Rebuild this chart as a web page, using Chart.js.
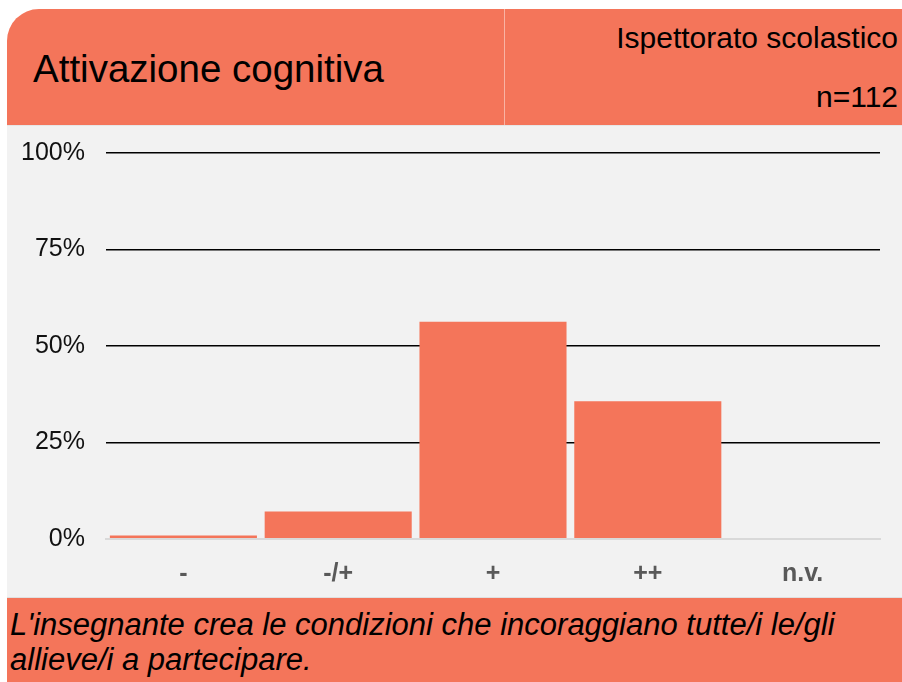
<!DOCTYPE html>
<html>
<head>
<meta charset="utf-8">
<script src="https://cdn.jsdelivr.net/npm/chart.js@4/dist/chart.umd.min.js"></script>
<style>
  html, body { margin: 0; padding: 0; background: #fff; }
  body { width: 902px; height: 682px; overflow: hidden; position: relative; font-family: "Liberation Sans", Arial, sans-serif; }
  #box { position: absolute; left: 7px; top: 9px; width: 900px; height: 680px; }
  #head { position: absolute; left: 0; top: 0; width: 100%; height: 116px; background: #f4755a;
          border-top-left-radius: 32px; border-bottom: 1px solid #e6e6e6; }
  #divider { position: absolute; left: 497px; top: 0; width: 1px; height: 116px; background: rgba(255,255,255,0.45); }
  .t { position: absolute; white-space: nowrap; color: #000; line-height: 1; }
  #title { left: 26px; top: 41px; font-size: 38.5px; }
  #sub1 { right: 9px; top: 14px; font-size: 30px; }
  #sub2 { right: 9px; top: 73px; font-size: 30px; }
  #panel { position: absolute; left: 0; top: 117px; width: 895px; height: 471px; background: #f2f2f2; }
  #foot { position: absolute; left: 0; top: 588px; width: 100%; height: 100px; background: #f4755a;
          border-top: 1px solid #e0e0e0; }
  #foottext { position: absolute; left: 3px; top: 9px; font-size: 31px; line-height: 35px; font-style: italic; color: #000; }
</style>
</head>
<body>
<div id="box">
  <div id="head">
    <div id="divider"></div>
    <div class="t" id="title">Attivazione cognitiva</div>
    <div class="t" id="sub1">Ispettorato scolastico</div>
    <div class="t" id="sub2">n=112</div>
  </div>
  <div id="panel"><canvas id="chart" width="895" height="471"></canvas></div>
  <div id="foot">
    <div id="foottext">L'insegnante crea le condizioni che incoraggiano tutte/i le/gli<br>allieve/i a partecipare.</div>
  </div>
</div>
<script>
// risposte (n=112), percentuali
var categorie = ['-', '-/+', '+', '++', 'n.v.'];
var percentuali = [0.9, 7.1, 56.3, 35.7, 0];
var tickY = [0, 25, 50, 75, 100];

var arancio = '#f4755a';

const ctx = document.getElementById('chart');
new Chart(ctx, {
  type: 'bar',
  data: {
    labels: categorie,
    datasets: [{
      data: percentuali,
      backgroundColor: arancio,
      borderWidth: 0,
      barPercentage: 0.95,
      categoryPercentage: 1
    }]
  },
  options: {
    responsive: false,
    animation: false,
    layout: { padding: { top: 27, right: 22, left: 0, bottom: 0 } },
    plugins: { legend: { display: false }, tooltip: { enabled: false } },
    scales: {
      x: {
        grid: { display: false },
        border: { color: '#d9d9d9', width: 2 },
        ticks: {
          color: '#595959',
          font: { family: 'Liberation Sans', size: 25, weight: 'bold' },
          padding: 12
        },
        afterFit: function(s) { s.height = 58; s.paddingLeft = 0; s.paddingRight = 0; }
      },
      y: {
        min: 0,
        max: 100,
        afterBuildTicks: function(s) { s.ticks = tickY.map(function(v) { return { value: v }; }); },
        grid: {
          drawTicks: false,
          color: function(c) { return c.tick && c.tick.value === 0 ? '#d9d9d9' : '#000'; },
          lineWidth: function(c) { return c.tick && c.tick.value === 0 ? 2 : 1.5; }
        },
        border: { display: false },
        ticks: {
          color: '#111',
          font: { family: 'Liberation Sans', size: 25 },
          padding: 21,
          callback: function(v) { return v + '%'; }
        },
        afterFit: function(s) { s.width = 99; s.paddingTop = 0; s.paddingBottom = 0; }
      }
    }
  }
});
</script>
</body>
</html>
